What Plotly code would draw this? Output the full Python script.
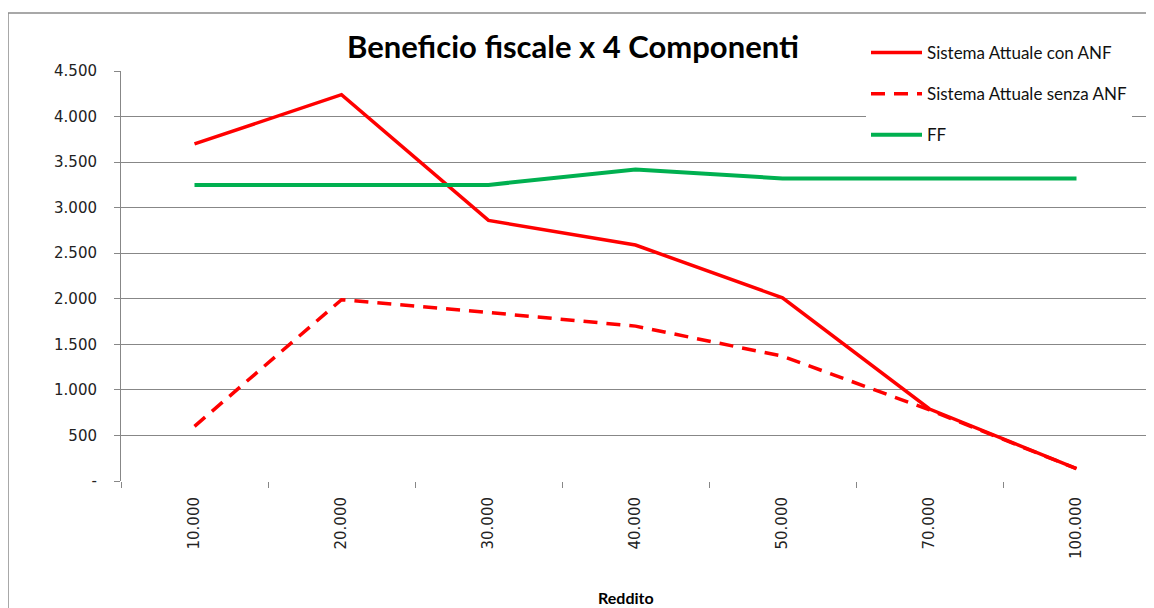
import plotly.graph_objects as go

categories = ["10.000", "20.000", "30.000", "40.000", "50.000", "70.000", "100.000"]
con_anf = [3700, 4240, 2860, 2590, 2010, 790, 135]
senza_anf = [600, 1990, 1850, 1700, 1370, 780, 135]
ff = [3250, 3250, 3250, 3420, 3320, 3320, 3320]

y_ticks = [0, 500, 1000, 1500, 2000, 2500, 3000, 3500, 4000, 4500]
y_ticktext = ["-", "500", "1.000", "1.500", "2.000", "2.500", "3.000", "3.500", "4.000", "4.500"]

# page has an 8px body margin; work in screen coordinates and subtract it
OX, OY = 8, 8
W, H = 1154 - OX, 608 - OY
L, T = 121 - OX, 71 - OY
pw, ph = 1150 - 121, 481 - 71
R = W - L - pw
B = H - T - ph

def px(x):
    return (x - 121) / pw

def py(y):
    return (481 - y) / ph

fig = go.Figure()
fig.add_trace(go.Scatter(x=categories, y=con_anf, mode="lines", name="Sistema Attuale con ANF",
                         legendgroup="a", line=dict(color="#FF0000", width=3.5)))
fig.add_trace(go.Scatter(x=categories, y=senza_anf, mode="lines", name="Sistema Attuale senza ANF",
                         legendgroup="b", line=dict(color="#FF0000", width=3.5, dash="14px,9px")))
fig.add_trace(go.Scatter(x=categories, y=ff, mode="lines", name="FF",
                         legendgroup="c", line=dict(color="#00B050", width=4)))

grid = "#878787"
fig.update_layout(
    width=W, height=H,
    margin=dict(l=L, r=R, t=T, b=B, autoexpand=False),
    paper_bgcolor="white", plot_bgcolor="white",
    title=dict(text="<b>Beneficio fiscale x 4 Componenti</b>", x=(573 - OX) / W, xanchor="center",
               y=1 - (47 - OY) / H, yanchor="middle", yref="container",
               font=dict(family="Lato", size=31, color="black")),
    legend=dict(x=px(866), y=py(35), xanchor="left", yanchor="top",
                bgcolor="white", traceorder="grouped", tracegroupgap=16, itemwidth=51,
                font=dict(family="Lato", size=17, color="#111")),
    xaxis=dict(type="category", tickson="boundaries", ticks="outside", ticklen=6, tickcolor=grid,
               showline=False, showgrid=False, tickangle=-90, ticklabelstandoff=12,
               tickfont=dict(family="DejaVu Sans", size=15, color="#222"),
               range=[-0.5, 6.5]),
    yaxis=dict(range=[0, 4500], tickvals=y_ticks, ticktext=y_ticktext, showgrid=True, gridcolor=grid,
               gridwidth=1, zeroline=True, zerolinecolor="rgba(0,0,0,0)", ticks="outside", ticklen=6,
               tickcolor=grid, showline=True, linecolor=grid, linewidth=1, ticklabelstandoff=14,
               tickfont=dict(family="DejaVu Sans", size=15, color="#222")),
    annotations=[dict(text="<b>Reddito</b>", xref="paper", yref="paper", x=px(626), y=py(597),
                      xanchor="center", yanchor="middle", showarrow=False,
                      font=dict(family="Lato", size=16, color="black"))],
    shapes=[dict(type="rect", xref="paper", yref="paper",
                 x0=px(8), x1=px(1180), y0=py(640), y1=py(13),
                 line=dict(color="#8c8c8c", width=1.5), fillcolor="rgba(0,0,0,0)", layer="below")],
)

fig.write_html("out.html")
